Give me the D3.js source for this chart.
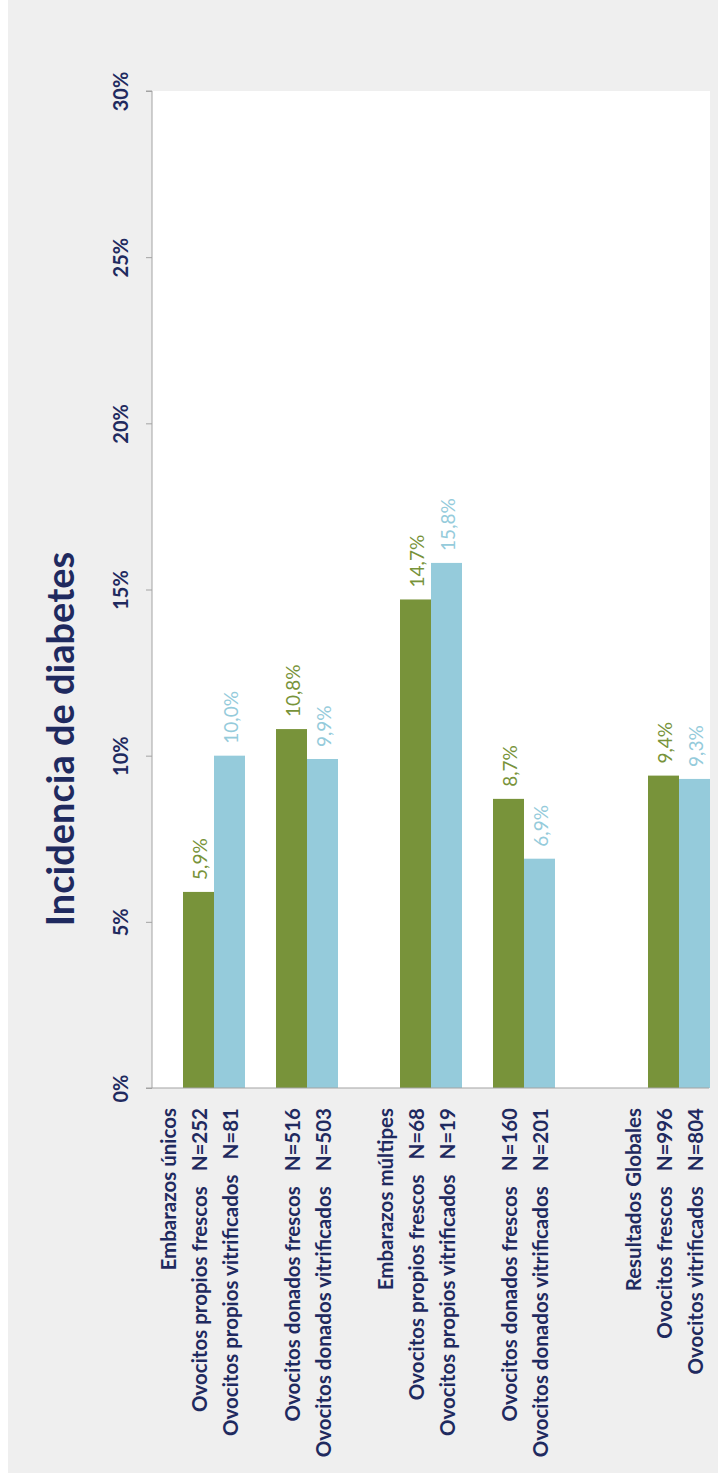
<!DOCTYPE html>
<html>
<head>
<meta charset="utf-8">
<script src="https://cdn.jsdelivr.net/npm/d3@7"></script>
<style>
  html, body { margin: 0; padding: 0; background: #ffffff; }
  svg { display: block; }
  text { white-space: pre; }
</style>
</head>
<body>
<svg id="chart" width="718" height="1473"></svg>
<script>
// Category slots along the horizontal axis (empty strings are spacer slots)
const slotLabels = [
  "Embarazos únicos",
  "Ovocitos propios frescos   N=252",
  "Ovocitos propios vitrificados   N=81",
  "",
  "Ovocitos donados frescos   N=516",
  "Ovocitos donados vitrificados   N=503",
  "",
  "Embarazos múltipes",
  "Ovocitos propios frescos   N=68",
  "Ovocitos propios vitrificados   N=19",
  "",
  "Ovocitos donados frescos   N=160",
  "Ovocitos donados vitrificados   N=201",
  "",
  "",
  "Resultados Globales",
  "Ovocitos frescos   N=996",
  "Ovocitos vitrificados   N=804"
];

// Diabetes incidence (%) per slot, fresh oocytes
const freshValues = [null, 5.9, null, null, 10.8, null, null, null, 14.7, null, null, 8.7, null, null, null, null, 9.4, null];
// Diabetes incidence (%) per slot, vitrified oocytes
const vitrifiedValues = [null, null, 10.0, null, null, 9.9, null, null, null, 15.8, null, null, 6.9, null, null, null, null, 9.3];

const yTicks = [0, 5, 10, 15, 20, 25, 30];
const yTitle = "Incidencia de diabetes";

const navy = "#1f2a5f";
const green = "#78933a";
const blue = "#95cbdb";
const axisGrey = "#a3a3a3";

const svg = d3.select("#chart");
const W = 718, H = 1473;
const plot = { left: 152, right: 710, top: 91, bottom: 1088 };

// page background
svg.append("rect").attr("x", 8).attr("y", 0).attr("width", W - 8).attr("height", H).attr("fill", "#efefef");
svg.append("rect")
  .attr("x", plot.left).attr("y", plot.top)
  .attr("width", plot.right - plot.left).attr("height", plot.bottom - plot.top)
  .attr("fill", "#ffffff");

const x = d3.scaleBand()
  .domain(d3.range(slotLabels.length))
  .range([plot.left, plot.right])
  .paddingInner(0).paddingOuter(0);

const y = d3.scaleLinear().domain([0, 30]).range([plot.bottom, plot.top]);

const pct = v => d3.format(".1f")(v).replace(".", ",") + "%";

// bars
function drawSeries(values, color, cls) {
  const data = values.map((v, i) => ({ i, v })).filter(d => d.v !== null);
  svg.append("g").attr("class", cls)
    .selectAll("rect").data(data).join("rect")
    .attr("x", d => x(d.i))
    .attr("y", d => y(d.v))
    .attr("width", x.bandwidth())
    .attr("height", d => y(0) - y(d.v))
    .attr("fill", color);

  svg.append("g").attr("class", cls + "-labels")
    .selectAll("text").data(data).join("text")
    .attr("transform", d => `translate(${x(d.i) + x.bandwidth() / 2 + 8},${y(d.v) - 12}) rotate(-90)`)
    .attr("text-anchor", "start")
    .attr("font-family", "Lato, 'Open Sans', sans-serif")
    .attr("font-weight", 400)
    .attr("font-size", 19)
    .attr("fill", color)
    .text(d => pct(d.v));
}
drawSeries(freshValues, green, "fresh");
drawSeries(vitrifiedValues, blue, "vitrified");

// y axis
const yAxis = d3.axisLeft(y).tickValues(yTicks).tickSize(6).tickFormat(d => d + "%");
const gy = svg.append("g").attr("transform", `translate(${plot.left},0)`).call(yAxis);
gy.select(".domain").attr("stroke", axisGrey).attr("d", `M-6,${plot.top}H0V${plot.bottom}`);
gy.selectAll(".tick line").attr("stroke", axisGrey);
gy.selectAll(".tick text")
  .attr("x", null).attr("dy", null)
  .attr("transform", "translate(-24,0) rotate(-90)")
  .attr("text-anchor", "middle")
  .attr("font-family", "Lato, 'Open Sans', sans-serif")
  .attr("font-weight", 700)
  .attr("font-size", 20)
  .attr("fill", navy);

// x axis (category labels)
const xAxis = d3.axisBottom(x).tickSize(0).tickFormat(i => slotLabels[i]);
const gx = svg.append("g").attr("transform", `translate(0,${plot.bottom})`).call(xAxis);
gx.select(".domain").attr("stroke", axisGrey).attr("d", `M${plot.left - 6},0H${plot.right - 1}`);
gx.selectAll(".tick text")
  .attr("y", null).attr("dy", null)
  .attr("transform", "translate(8,20) rotate(-90)")
  .attr("text-anchor", "end")
  .attr("font-family", "Lato, 'Open Sans', sans-serif")
  .attr("font-weight", 700)
  .attr("font-size", 20.5)
  .attr("fill", navy);

// axis title
svg.append("text")
  .attr("transform", `translate(74,739) rotate(-90)`)
  .attr("text-anchor", "middle")
  .attr("font-family", "Lato, 'Open Sans', sans-serif")
  .attr("font-weight", 700)
  .attr("font-size", 38)
  .attr("fill", navy)
  .text(yTitle);
</script>
</body>
</html>
